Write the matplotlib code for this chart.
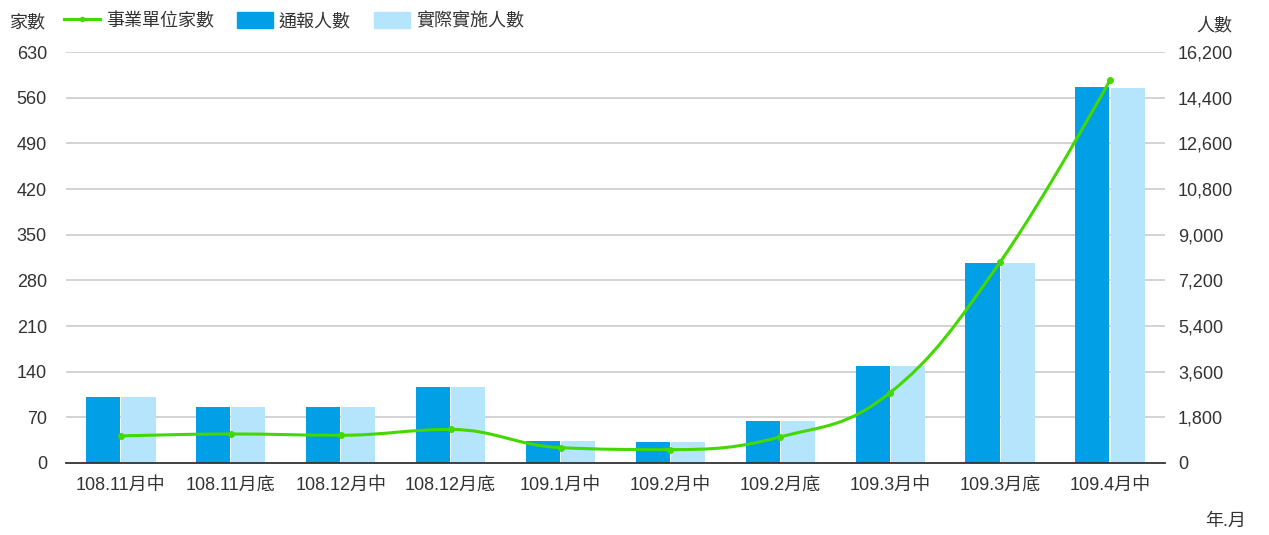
import numpy as np
import matplotlib
matplotlib.use('Agg')
import matplotlib.pyplot as plt
from matplotlib.path import Path
from matplotlib.patches import PathPatch, Patch
from matplotlib.lines import Line2D
from matplotlib.ticker import FuncFormatter

plt.rcParams['font.family'] = ['Liberation Sans', 'Noto Sans CJK TC', 'DejaVu Sans']
plt.rcParams['font.size'] = 13

# data
periods = ['108.11月中', '108.11月底', '108.12月中', '108.12月底', '109.1月中',
           '109.2月中', '109.2月底', '109.3月中', '109.3月底', '109.4月中']
units = [41.5, 44.5, 42.5, 51.5, 23.5, 20.5, 40, 108, 308, 587]          # 事業單位家數 (left axis)
reported = [2605, 2210, 2210, 3000, 870, 830, 1650, 3810, 7880, 14820]  # 通報人數 (right axis)
actual = [2600, 2205, 2205, 2995, 865, 825, 1645, 3805, 7875, 14780]    # 實際實施人數 (right axis)

green = '#42D800'
blue = '#009FE6'
light = '#B5E5FC'
grid_c = '#D0D0D0'
text_c = '#333333'


def spline_path(xs, ys, smoothing=1.5):
    # highcharts-like spline, bezier control points per point
    n = len(xs)
    left = [None] * n
    right = [None] * n
    denom = smoothing + 1
    for i in range(1, n - 1):
        x, y = xs[i], ys[i]
        lx, ly = xs[i - 1], ys[i - 1]
        nx, ny = xs[i + 1], ys[i + 1]
        lcx = (smoothing * x + lx) / denom
        lcy = (smoothing * y + ly) / denom
        rcx = (smoothing * x + nx) / denom
        rcy = (smoothing * y + ny) / denom
        corr = (rcy - lcy) * (rcx - x) / (rcx - lcx) + y - rcy
        lcy += corr
        rcy += corr
        if lcy > ly and lcy > y:
            lcy = max(ly, y)
            rcy = 2 * y - lcy
        elif lcy < ly and lcy < y:
            lcy = min(ly, y)
            rcy = 2 * y - lcy
        if rcy > ny and rcy > y:
            rcy = max(ny, y)
            lcy = 2 * y - rcy
        elif rcy < ny and rcy < y:
            rcy = min(ny, y)
            lcy = 2 * y - rcy
        left[i] = (lcx, lcy)
        right[i] = (rcx, rcy)
    verts = [(xs[0], ys[0])]
    codes = [Path.MOVETO]
    for i in range(1, n):
        c1 = right[i - 1] if right[i - 1] else (xs[i - 1], ys[i - 1])
        c2 = left[i] if left[i] else (xs[i], ys[i])
        verts += [c1, c2, (xs[i], ys[i])]
        codes += [Path.CURVE4] * 3
    return Path(verts, codes)


fig = plt.figure(figsize=(12.69, 5.35), dpi=100)
ax = fig.add_axes([0.052, 0.1346, 0.866, 0.768])
ax2 = ax.twinx()

x = np.arange(len(periods))
w = 0.31
ax2.bar(x - w / 2 - 0.005, reported, width=w, color=blue, zorder=2)
ax2.bar(x + w / 2 + 0.005, actual, width=w, color=light, zorder=2)

ax.set_zorder(ax2.get_zorder() + 1)
ax.patch.set_visible(False)
ax2.patch.set_visible(True)

path = spline_path(list(x), units)
ax.add_patch(PathPatch(path, facecolor='none', edgecolor=green, lw=2.2, zorder=4))
ax.plot(x, units, 'o', color=green, ms=4, zorder=5)

ax.set_xlim(-0.5, len(periods) - 0.5)
ax.set_ylim(0, 630)
ax.set_yticks(np.arange(0, 631, 70))
ax2.set_ylim(0, 16200)
ax2.set_yticks(np.arange(0, 16201, 1800))
ax2.yaxis.set_major_formatter(FuncFormatter(lambda v, p: f'{int(v):,}'))

for y in np.arange(70, 631, 70):
    ax2.axhline(y / 630 * 16200, color=grid_c, lw=1.3, zorder=0)

ax.set_xticks(x)
ax.set_xticklabels(periods)
for a in (ax, ax2):
    for s in a.spines.values():
        s.set_visible(False)
    a.tick_params(length=0, colors=text_c, labelsize=13)
ax.spines['bottom'].set_visible(True)
ax.spines['bottom'].set_color('#333333')
ax.spines['bottom'].set_linewidth(1.3)
ax.tick_params(axis='x', pad=10)
ax.tick_params(axis='y', pad=13.7)
ax2.tick_params(axis='y', pad=9.4)

fig.text(0.008, 0.958, '家數', fontsize=13, color=text_c, va='center')
fig.text(0.943, 0.952, '人數', fontsize=13, color=text_c, va='center')
fig.text(0.950, 0.025, '年.月', fontsize=13, color=text_c, va='center')

handles = [Line2D([0], [0], color=green, lw=2.2, marker='o', ms=3),
           Patch(color=blue), Patch(color=light)]
labels = ['事業單位家數', '通報人數', '實際實施人數']
fig.legend(handles, labels, loc='center left', bbox_to_anchor=(0.045, 0.96), ncol=3,
           frameon=False, handlelength=2.0, handleheight=1.0, handletextpad=0.3,
           columnspacing=1.3, borderaxespad=0, fontsize=13, labelcolor=text_c)

fig.savefig('out.png', dpi=100)
